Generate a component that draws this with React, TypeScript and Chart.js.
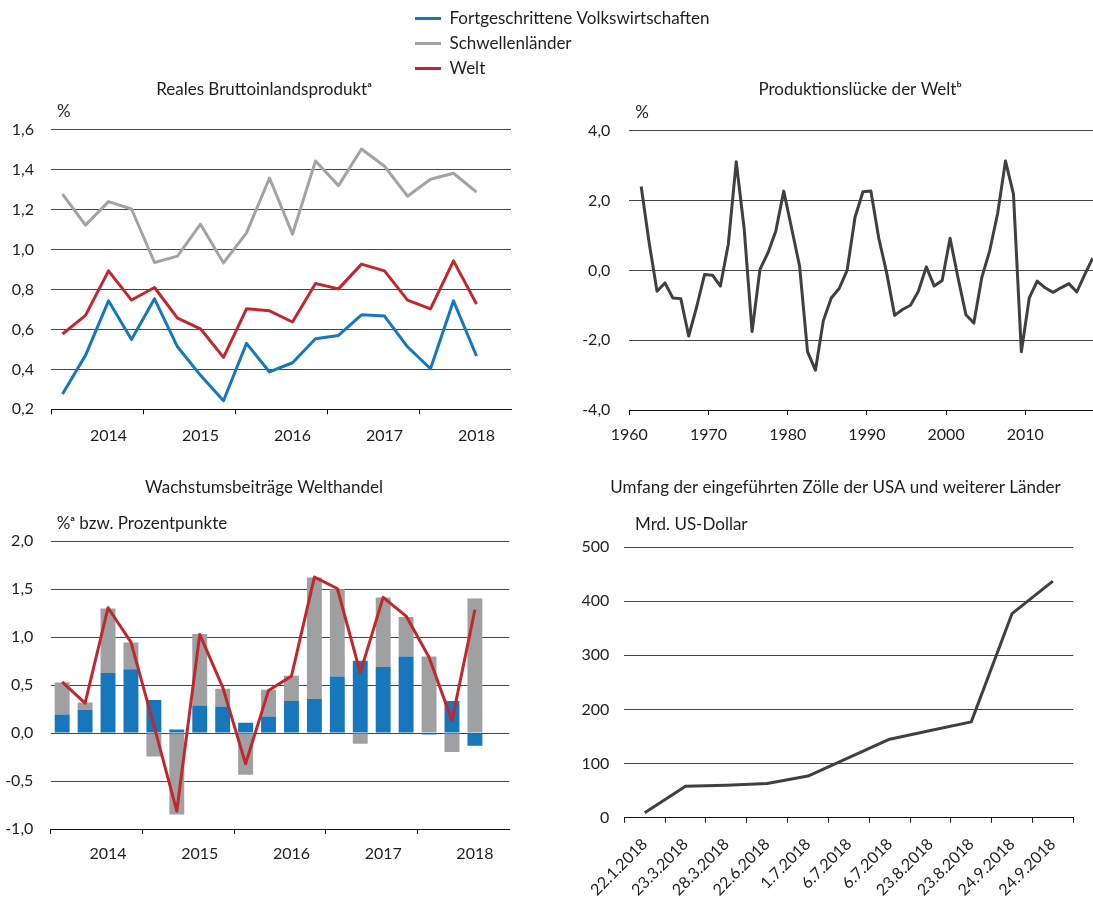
import React, { useEffect, useRef } from 'react';
import { Chart, registerables } from 'chart.js';

Chart.register(...registerables);

const FONT_FAMILY = 'Lato, "Open Sans", sans-serif';
Chart.defaults.font.family = FONT_FAMILY;
Chart.defaults.color = '#1e1e1e';

const TEXT = '#1e1e1e';
const GRID = '#474747';
const AXIS = '#111111';
const BLUE = '#1677bd';
const GREY_LINE = '#a3a3a3';
const GREY_BAR = '#9ea0a2';
const RED = '#c1272d';
const DARK = '#404040';
const TITLE_SIZE = 17;
const TICK_SIZE = 16;

// ---------- Data: Reales Bruttoinlandsprodukt (quarterly, %) ----------
const quarters = [
  '2014Q1', '2014Q2', '2014Q3', '2014Q4',
  '2015Q1', '2015Q2', '2015Q3', '2015Q4',
  '2016Q1', '2016Q2', '2016Q3', '2016Q4',
  '2017Q1', '2017Q2', '2017Q3', '2017Q4',
  '2018Q1', '2018Q2', '2018Q3', '2018Q4',
];
const gdpAdvanced = [0.277, 0.47, 0.743, 0.55, 0.753, 0.513, 0.37, 0.243, 0.53, 0.387, 0.433, 0.553, 0.57, 0.673, 0.667, 0.513, 0.403, 0.743, 0.467, null];
const gdpEmerging = [1.277, 1.122, 1.24, 1.203, 0.935, 0.967, 1.127, 0.933, 1.083, 1.358, 1.077, 1.443, 1.32, 1.503, 1.417, 1.267, 1.352, 1.382, 1.287, null];
const gdpWorld = [0.577, 0.67, 0.893, 0.747, 0.81, 0.657, 0.603, 0.46, 0.703, 0.693, 0.637, 0.83, 0.803, 0.927, 0.893, 0.747, 0.703, 0.943, 0.727, null];

// ---------- Data: Produktionslücke der Welt (annual, %) ----------
const gapYears = [
  1961, 1962, 1963, 1964, 1965, 1966, 1967, 1968, 1969, 1970,
  1971, 1972, 1973, 1974, 1975, 1976, 1977, 1978, 1979, 1980,
  1981, 1982, 1983, 1984, 1985, 1986, 1987, 1988, 1989, 1990,
  1991, 1992, 1993, 1994, 1995, 1996, 1997, 1998, 1999, 2000,
  2001, 2002, 2003, 2004, 2005, 2006, 2007, 2008, 2009, 2010,
  2011, 2012, 2013, 2014, 2015, 2016, 2017, 2018,
];
const outputGap = [
  2.40, 0.80, -0.60, -0.36, -0.79, -0.81, -1.88, -1.05, -0.12, -0.14,
  -0.45, 0.75, 3.11, 1.20, -1.75, 0.03, 0.50, 1.13, 2.27, 1.20,
  0.12, -2.33, -2.86, -1.44, -0.79, -0.52, 0.00, 1.52, 2.25, 2.27,
  0.92, -0.08, -1.29, -1.12, -1.00, -0.60, 0.10, -0.45, -0.29, 0.92,
  -0.21, -1.27, -1.51, -0.21, 0.56, 1.62, 3.13, 2.19, -2.33, -0.79,
  -0.31, -0.50, -0.63, -0.50, -0.38, -0.62, -0.12, 0.35,
];
const gapTickLabels = [1960, 1970, 1980, 1990, 2000, 2010];

// ---------- Data: Wachstumsbeiträge Welthandel ----------
const tradeAdvanced = [0.195, 0.24, 0.626, 0.667, 0.344, 0.038, 0.289, 0.278, 0.108, 0.174, 0.334, 0.355, 0.591, 0.754, 0.688, 0.80, -0.014, 0.334, -0.132, null];
const tradeEmerging = [0.333, 0.08, 0.674, 0.278, -0.243, -0.848, 0.744, 0.185, -0.434, 0.278, 0.264, 1.268, 0.909, -0.111, 0.727, 0.41, 0.80, -0.198, 1.404, null];
const tradeWorld = [0.535, 0.313, 1.307, 0.949, 0.08, -0.813, 1.029, 0.48, -0.32, 0.445, 0.594, 1.627, 1.508, 0.63, 1.415, 1.22, 0.79, 0.13, 1.286, null];

// ---------- Data: Umfang der eingeführten Zölle ----------
const tariffDates = ['22.1.2018', '23.3.2018', '28.3.2018', '22.6.2018', '1.7.2018', '6.7.2018', '6.7.2018', '23.8.2018', '23.8.2018', '24.9.2018', '24.9.2018'];
const tariffVolume = [9, 58, 60, 63, 77, 111, 145, 161, 177, 377, 437];

const seriesNames = ['Fortgeschrittene Volkswirtschaften', 'Schwellenländer', 'Welt'];
const seriesColors = [BLUE, GREY_LINE, RED];

// ---------- Layout ----------
type Geo = { cx: number; cy: number; cw: number; ch: number; L: number; T: number; R: number; B: number; tc: number; ty: number };

const geoA: Geo = { cx: 0, cy: 70, cw: 540, ch: 380, L: 51, T: 129.7, R: 511, B: 409.3, tc: 264, ty: 90 };
const geoB: Geo = { cx: 548, cy: 70, cw: 560, ch: 380, L: 629.3, T: 130.7, R: 1096.6, B: 410, tc: 860, ty: 90 };
const geoC: Geo = { cx: 0, cy: 468, cw: 540, ch: 420, L: 50.7, T: 541.3, R: 509.3, B: 829, tc: 264, ty: 488 };
const geoD: Geo = { cx: 548, cy: 468, cw: 560, ch: 430, L: 624.3, T: 547, R: 1073.3, B: 817.7, tc: 835.5, ty: 488 };

function layoutFor(g: Geo) {
  return {
    pr: g.cx + g.cw - g.R,
    pt: g.T - g.cy,
    yW: g.L - g.cx,
    xH: g.cy + g.ch - g.B,
  };
}

// Draws the panel title and the unit label as canvas text.
const panelTextPlugin = {
  id: 'panelText',
  afterDraw(chart: any, _args: any, opts: any) {
    if (!opts) return;
    const { ctx, chartArea } = chart;
    ctx.save();
    ctx.font = `${TITLE_SIZE}px ${FONT_FAMILY}`;
    ctx.fillStyle = TEXT;
    ctx.textBaseline = 'middle';
    if (opts.title) {
      ctx.textAlign = 'center';
      ctx.fillText(opts.title, opts.titleX, opts.titleY);
    }
    if (opts.unit) {
      ctx.textAlign = 'left';
      ctx.fillText(opts.unit, chartArea.left + opts.unitDx, chartArea.top + opts.unitDy);
    }
    ctx.restore();
  },
};

const comma1 = (v: any) => Number(v).toFixed(1).replace('.', ',');

function baseOptions(g: Geo, title: string, unit: string, unitDx: number, unitDy: number) {
  const lay = layoutFor(g);
  return {
    lay,
    options: {
      responsive: false,
      animation: false,
      events: [],
      layout: { padding: { left: 0, right: lay.pr, top: lay.pt, bottom: 0 } },
      plugins: {
        legend: { display: false },
        tooltip: { enabled: false },
        title: { display: false },
        panelText: { title, titleX: g.tc - g.cx, titleY: g.ty - g.cy, unit, unitDx, unitDy },
      },
    } as any,
  };
}

function yAxis(lay: any, min: number, max: number, step: number, fmt: (v: any) => string, pad: number) {
  return {
    min,
    max,
    afterFit: (s: any) => { s.width = lay.yW; },
    border: { display: false },
    grid: { color: GRID, lineWidth: 1, drawTicks: false },
    ticks: { stepSize: step, callback: fmt, padding: pad, color: TEXT, font: { size: TICK_SIZE } },
  };
}

function quarterXAxis(lay: any, pad: number, stacked = false) {
  return {
    type: 'category',
    stacked,
    offset: true,
    afterFit: (s: any) => { s.height = lay.xH; },
    border: { display: true, color: AXIS, width: 1 },
    grid: {
      offset: true,
      drawOnChartArea: false,
      tickLength: 5,
      color: (c: any) => (c.index % 4 === 0 ? AXIS : 'rgba(0,0,0,0)'),
    },
    ticks: {
      autoSkip: false,
      maxRotation: 0,
      padding: pad,
      color: TEXT,
      font: { size: TICK_SIZE },
      callback: (_v: any, i: number) => (i % 4 === 2 ? quarters[i].slice(0, 4) : ''),
    },
  };
}

const lineStyle = { borderWidth: 3, pointRadius: 0, tension: 0, borderJoinStyle: 'round' as const, fill: false };

function configA() {
  const { lay, options } = baseOptions(geoA, 'Reales Bruttoinlandsproduktᵃ', '%', 6, -18.5);
  options.scales = {
    x: quarterXAxis(lay, 11.5),
    y: yAxis(lay, 0.2, 1.6, 0.2, comma1, 17),
  };
  return {
    type: 'line',
    data: {
      labels: quarters,
      datasets: [
        { label: seriesNames[0], data: gdpAdvanced, borderColor: BLUE, ...lineStyle },
        { label: seriesNames[1], data: gdpEmerging, borderColor: GREY_LINE, ...lineStyle },
        { label: seriesNames[2], data: gdpWorld, borderColor: RED, ...lineStyle },
      ],
    },
    options,
    plugins: [panelTextPlugin],
  };
}

function configB() {
  const { lay, options } = baseOptions(geoB, 'Produktionslücke der Weltᵇ', '%', 6, -17.7);
  options.scales = {
    x: {
      type: 'linear',
      min: 1960,
      max: 2019,
      afterFit: (s: any) => { s.height = lay.xH; },
      afterBuildTicks: (s: any) => {
        s.ticks = gapTickLabels.map((v) => ({ value: v }));
      },
      border: { display: true, color: AXIS, width: 1 },
      grid: { drawOnChartArea: false, tickLength: 5, color: AXIS },
      ticks: { padding: 10.5, color: TEXT, font: { size: TICK_SIZE }, maxRotation: 0, callback: (v: any) => String(v) },
    },
    y: yAxis(lay, -4, 4, 2, comma1, 19),
  };
  return {
    type: 'line',
    data: {
      datasets: [
        {
          label: 'Produktionslücke',
          data: gapYears.map((yr, i) => ({ x: yr + 0.5, y: outputGap[i] })),
          borderColor: DARK,
          ...lineStyle,
        },
      ],
    },
    options,
    plugins: [panelTextPlugin],
  };
}

function configC() {
  const { lay, options } = baseOptions(geoC, 'Wachstumsbeiträge Welthandel', '%ᵃ bzw. Prozentpunkte', 6, -18);
  options.scales = {
    x: quarterXAxis(lay, 10.5, true),
    y: { ...yAxis(lay, -1, 2, 0.5, comma1, 17.4), stacked: true },
  };
  return {
    type: 'bar',
    data: {
      labels: quarters,
      datasets: [
        { type: 'line', label: seriesNames[2], data: tradeWorld, borderColor: RED, stack: 'world', order: 0, ...lineStyle },
        { type: 'bar', label: seriesNames[0], data: tradeAdvanced, backgroundColor: BLUE, stack: 'bars', order: 1, barPercentage: 0.65, categoryPercentage: 1 },
        { type: 'bar', label: seriesNames[1], data: tradeEmerging, backgroundColor: GREY_BAR, stack: 'bars', order: 2, barPercentage: 0.65, categoryPercentage: 1 },
      ],
    },
    options,
    plugins: [panelTextPlugin],
  };
}

function configD() {
  const { lay, options } = baseOptions(geoD, 'Umfang der eingeführten Zölle der USA und weiterer Länder', 'Mrd. US-Dollar', 10.7, -22);
  options.scales = {
    x: {
      type: 'category',
      offset: true,
      afterFit: (s: any) => { s.height = lay.xH; },
      border: { display: true, color: AXIS, width: 1 },
      grid: { offset: true, drawOnChartArea: false, tickLength: 5, color: AXIS },
      ticks: { autoSkip: false, minRotation: 45, maxRotation: 45, padding: 12, color: TEXT, font: { size: TICK_SIZE } },
    },
    y: yAxis(lay, 0, 500, 100, (v: any) => String(v), 15),
  };
  return {
    type: 'line',
    data: {
      labels: tariffDates,
      datasets: [{ label: 'Zölle', data: tariffVolume, borderColor: DARK, ...lineStyle }],
    },
    options,
    plugins: [panelTextPlugin],
  };
}

function configLegend() {
  return {
    type: 'line',
    data: {
      labels: [],
      datasets: seriesNames.map((n, i) => ({ label: n, data: [], borderColor: seriesColors[i], backgroundColor: seriesColors[i], borderWidth: 0 })),
    },
    options: {
      responsive: false,
      animation: false,
      events: [],
      layout: { padding: 0 },
      scales: { x: { display: false }, y: { display: false } },
      plugins: {
        tooltip: { enabled: false },
        legend: {
          position: 'left',
          align: 'start',
          labels: { boxWidth: 26, boxHeight: 3, padding: 8, color: TEXT, font: { size: TITLE_SIZE } },
        },
      },
    },
  };
}

function Panel({ x, y, w, h, build }: { x: number; y: number; w: number; h: number; build: () => any }) {
  const ref = useRef<HTMLCanvasElement>(null);
  useEffect(() => {
    const chart = new Chart(ref.current as HTMLCanvasElement, build());
    return () => chart.destroy();
  }, []);
  return (
    <canvas
      ref={ref}
      width={w}
      height={h}
      style={{ position: 'absolute', left: x, top: y, width: w, height: h }}
    />
  );
}

export default function App() {
  return (
    <div style={{ position: 'absolute', left: 0, top: 0, width: 1093, height: 898, overflow: 'hidden', background: '#ffffff' }}>
      <Panel x={geoA.cx} y={geoA.cy} w={geoA.cw} h={geoA.ch} build={configA} />
      <Panel x={geoB.cx} y={geoB.cy} w={geoB.cw} h={geoB.ch} build={configB} />
      <Panel x={geoC.cx} y={geoC.cy} w={geoC.cw} h={geoC.ch} build={configC} />
      <Panel x={geoD.cx} y={geoD.cy} w={geoD.cw} h={geoD.ch} build={configD} />
      <Panel x={407} y={2} w={800} h={110} build={configLegend} />
    </div>
  );
}
